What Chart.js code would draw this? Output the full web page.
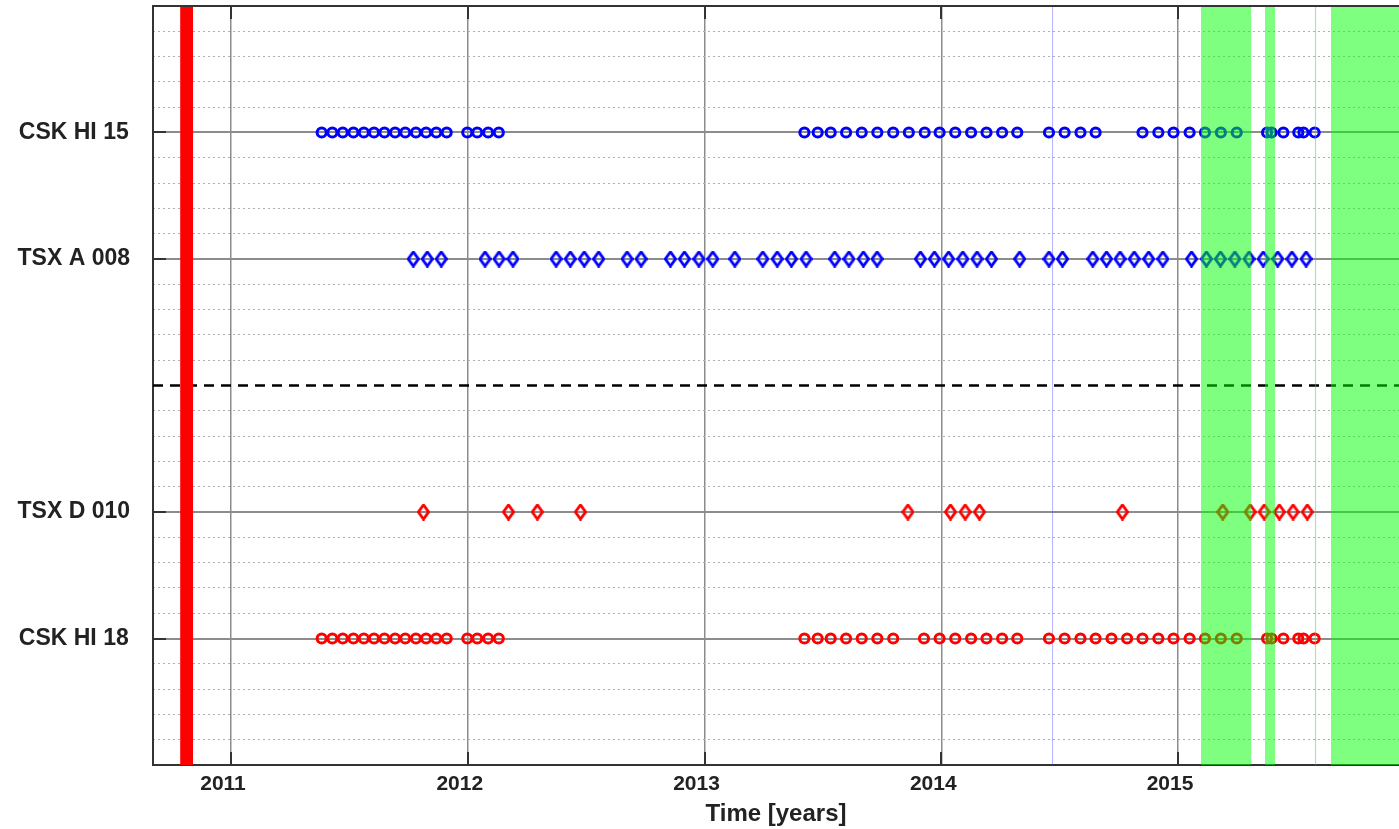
<!DOCTYPE html>
<html>
<head>
<meta charset="utf-8">
<script src="https://cdn.jsdelivr.net/npm/chart.js@4/dist/chart.umd.min.js"></script>
<style>
  html, body { margin: 0; padding: 0; background: #ffffff; overflow: hidden; }
  #wrap { width: 1399px; height: 829px; }
</style>
</head>
<body>
<div id="wrap"><canvas id="timeline" width="1399" height="829"></canvas></div>
<script>
// Acquisition rows (bottom to top) and their vertical positions
const rowLabels = ['CSK HI 18', 'TSX D 010', 'TSX A 008', 'CSK HI 15'];
const rowPositions = [1, 2, 4, 5];
const separatorLevel = 3;
const valueRange = [0, 6];

// Time axis (decimal years)
const yearTicks = [2011, 2012, 2013, 2014, 2015];
const timeRange = [2010.6705, 2015.9334];

// Acquisition dates, decimal years
const cskHi15Dates = [
  2011.383, 2011.428, 2011.472, 2011.517, 2011.561, 2011.604, 2011.648, 2011.693, 2011.736,
  2011.781, 2011.824, 2011.867, 2011.911,
  2011.998, 2012.040, 2012.086, 2012.131,
  2013.422, 2013.478, 2013.533, 2013.598, 2013.664, 2013.730, 2013.797, 2013.863, 2013.930,
  2013.993, 2014.059, 2014.126, 2014.191, 2014.257, 2014.321,
  2014.455, 2014.521, 2014.588, 2014.652,
  2014.850, 2014.917, 2014.981, 2015.049, 2015.114, 2015.181, 2015.248,
  2015.376, 2015.395, 2015.445, 2015.508, 2015.530, 2015.577
];
const tsxA008Dates = [
  2011.770, 2011.829, 2011.888,
  2012.073, 2012.132, 2012.191,
  2012.373, 2012.433, 2012.492, 2012.553,
  2012.673, 2012.732,
  2012.856, 2012.915, 2012.976, 2013.035,
  2013.128,
  2013.246, 2013.307, 2013.367, 2013.429,
  2013.550, 2013.610, 2013.671, 2013.729,
  2013.912, 2013.971, 2014.031, 2014.091, 2014.151, 2014.212,
  2014.331,
  2014.455, 2014.512,
  2014.640, 2014.698, 2014.755, 2014.815, 2014.876, 2014.936,
  2015.057,
  2015.120, 2015.179, 2015.240, 2015.300, 2015.360, 2015.421, 2015.481, 2015.541
];
const tsxD010Dates = [
  2011.813,
  2012.172, 2012.294, 2012.476,
  2013.859,
  2014.039, 2014.101, 2014.161,
  2014.765,
  2015.189, 2015.305, 2015.364, 2015.428, 2015.486, 2015.546
];
const cskHi18Dates = [
  2011.383, 2011.428, 2011.472, 2011.517, 2011.561, 2011.604, 2011.648, 2011.693, 2011.736,
  2011.781, 2011.824, 2011.867, 2011.911,
  2011.998, 2012.040, 2012.086, 2012.131,
  2013.422, 2013.478, 2013.533, 2013.598, 2013.664, 2013.730, 2013.797,
  2013.927, 2013.993, 2014.059, 2014.126, 2014.191, 2014.257, 2014.321,
  2014.455, 2014.521, 2014.588, 2014.652, 2014.719, 2014.785, 2014.850, 2014.917, 2014.981,
  2015.049, 2015.114, 2015.181, 2015.248,
  2015.376, 2015.395, 2015.445, 2015.508, 2015.530, 2015.577
];

// Highlighted time windows
const redEventSpan = [2010.785, 2010.840];
const greenSpans = [
  [2015.097, 2015.310],
  [2015.367, 2015.410],
  [2015.578, 2015.584],
  [2015.646, 2015.940]
];
const blueEventDate = 2014.470;

// Minor dotted grid levels (every fifth of a row spacing, skipping whole rows)
const minorLevels = [];
for (let k = 1; k < 30; k++) {
  if (k % 5 !== 0) minorLevels.push(k / 5);
}

const TEXT = '#222222';
const FRAME = '#333333';
const FONT = 'Liberation Sans, Arial, Helvetica, sans-serif';

function diamondSprite(color) {
  const w = 13, h = 17, lw = 2.8;
  const c = document.createElement('canvas');
  c.width = w; c.height = h;
  const g = c.getContext('2d');
  g.strokeStyle = color;
  g.lineWidth = lw;
  g.lineJoin = 'miter';
  g.beginPath();
  g.moveTo(w / 2, lw / 2);
  g.lineTo(w - lw / 2, h / 2);
  g.lineTo(w / 2, h - lw / 2);
  g.lineTo(lw / 2, h / 2);
  g.closePath();
  g.stroke();
  return c;
}

const blueDiamond = diamondSprite('#0000ff');
const redDiamond = diamondSprite('#ff0000');

const atRow = (dates, level) => dates.map(d => ({ x: d, y: level }));

function spanDataset(span, color, order) {
  return {
    type: 'line',
    data: [{ x: span[0], y: valueRange[1] }, { x: span[1], y: valueRange[1] }],
    fill: 'origin',
    backgroundColor: color,
    borderColor: 'transparent',
    borderWidth: 0,
    pointRadius: 0,
    order: order
  };
}

const circleStyle = (color) => ({
  type: 'scatter',
  pointStyle: 'circle',
  pointRadius: 4.6,
  pointBorderWidth: 3,
  pointBackgroundColor: 'transparent',
  pointBorderColor: color,
  showLine: false,
  order: 1
});

const diamondStyle = (sprite) => ({
  type: 'scatter',
  pointStyle: sprite,
  pointRadius: 6,
  showLine: false,
  order: 1
});

const datasets = [
  // translucent green windows drawn over everything else
  ...greenSpans.map(s => spanDataset(s, 'rgba(0,255,0,0.5)', 0)),
  Object.assign({ label: 'CSK HI 15', data: atRow(cskHi15Dates, rowPositions[3]) }, circleStyle('#0000ff')),
  Object.assign({ label: 'TSX A 008', data: atRow(tsxA008Dates, rowPositions[2]) }, diamondStyle(blueDiamond)),
  Object.assign({ label: 'TSX D 010', data: atRow(tsxD010Dates, rowPositions[1]) }, diamondStyle(redDiamond)),
  Object.assign({ label: 'CSK HI 18', data: atRow(cskHi18Dates, rowPositions[0]) }, circleStyle('#ff0000')),
  spanDataset(redEventSpan, '#ff0000', 1),
  {
    type: 'line',
    data: [{ x: timeRange[0], y: separatorLevel }, { x: timeRange[1], y: separatorLevel }],
    borderColor: '#000000',
    borderWidth: 2.5,
    borderDash: [10, 7],
    pointRadius: 0,
    fill: false,
    order: 2
  },
  {
    type: 'line',
    data: [{ x: blueEventDate, y: valueRange[0] }, { x: blueEventDate, y: valueRange[1] }],
    borderColor: 'rgba(90,90,255,0.45)',
    borderWidth: 1,
    pointRadius: 0,
    fill: false,
    order: 2
  }
];

// Axis box top edge plus short inward tick marks, MATLAB style
const axisBox = {
  id: 'axisBox',
  afterDatasetsDraw(chart) {
    const { ctx, chartArea: a, scales } = chart;
    const len = 13;
    ctx.save();
    ctx.strokeStyle = FRAME;
    ctx.lineWidth = 2;
    ctx.beginPath();
    ctx.moveTo(a.left, a.top); ctx.lineTo(a.right, a.top);
    scales.x.ticks.forEach(t => {
      const px = Math.round(scales.x.getPixelForValue(t.value));
      ctx.moveTo(px, a.top); ctx.lineTo(px, a.top + len);
      ctx.moveTo(px, a.bottom); ctx.lineTo(px, a.bottom - len);
    });
    scales.y.ticks.forEach(t => {
      const py = Math.round(scales.y.getPixelForValue(t.value));
      ctx.moveTo(a.left, py); ctx.lineTo(a.left + len, py);
    });
    ctx.stroke();
    ctx.restore();
  }
};

// keep the plot box flush with the canvas edges
const noEdgePadding = s => {
  s.paddingTop = 0; s.paddingBottom = 0; s.paddingLeft = 0; s.paddingRight = 0;
};

new Chart(document.getElementById('timeline'), {
  type: 'scatter',
  data: { datasets },
  plugins: [axisBox],
  options: {
    responsive: false,
    animation: false,
    devicePixelRatio: 1,
    layout: { autoPadding: false, padding: { top: 6, right: 0, bottom: 0, left: 0 } },
    plugins: { legend: { display: false }, tooltip: { enabled: false } },
    scales: {
      x: {
        type: 'linear',
        position: 'bottom',
        min: timeRange[0],
        max: timeRange[1],
        afterBuildTicks: s => { s.ticks = yearTicks.map(v => ({ value: v })); },
        afterFit: s => { s.height = 64; noEdgePadding(s); },
        grid: { color: '#8c8c8c', lineWidth: 1.5, drawTicks: false },
        border: { display: true, color: FRAME, width: 2 },
        ticks: {
          padding: 7,
          labelOffset: -8,
          maxRotation: 0,
          autoSkip: false,
          color: TEXT,
          font: { family: FONT, size: 21, weight: 'bold' },
          callback: v => String(v)
        },
        title: {
          display: true,
          text: 'Time [years]',
          color: TEXT,
          font: { family: FONT, size: 24, weight: 'bold' },
          padding: { top: 0, bottom: 0 }
        }
      },
      y: {
        type: 'linear',
        position: 'left',
        min: valueRange[0],
        max: valueRange[1],
        afterBuildTicks: s => { s.ticks = rowPositions.map(v => ({ value: v })); },
        afterFit: s => { s.width = 153; noEdgePadding(s); },
        grid: { color: '#8c8c8c', lineWidth: 2, drawTicks: false },
        border: { display: true, color: FRAME, width: 2 },
        ticks: {
          padding: 23,
          crossAlign: 'center',
          color: TEXT,
          font: { family: FONT, size: 23, weight: 'bold' },
          callback: (v, i) => rowLabels[i]
        }
      },
      yMinor: {
        type: 'linear',
        position: 'left',
        min: valueRange[0],
        max: valueRange[1],
        afterBuildTicks: s => { s.ticks = minorLevels.map(v => ({ value: v })); },
        afterFit: s => { s.width = 0; noEdgePadding(s); },
        ticks: { display: false },
        grid: { color: '#b0b0b0', lineWidth: 1, drawTicks: false },
        border: { display: false, dash: [2, 3] }
      }
    }
  }
});
</script>
</body>
</html>
